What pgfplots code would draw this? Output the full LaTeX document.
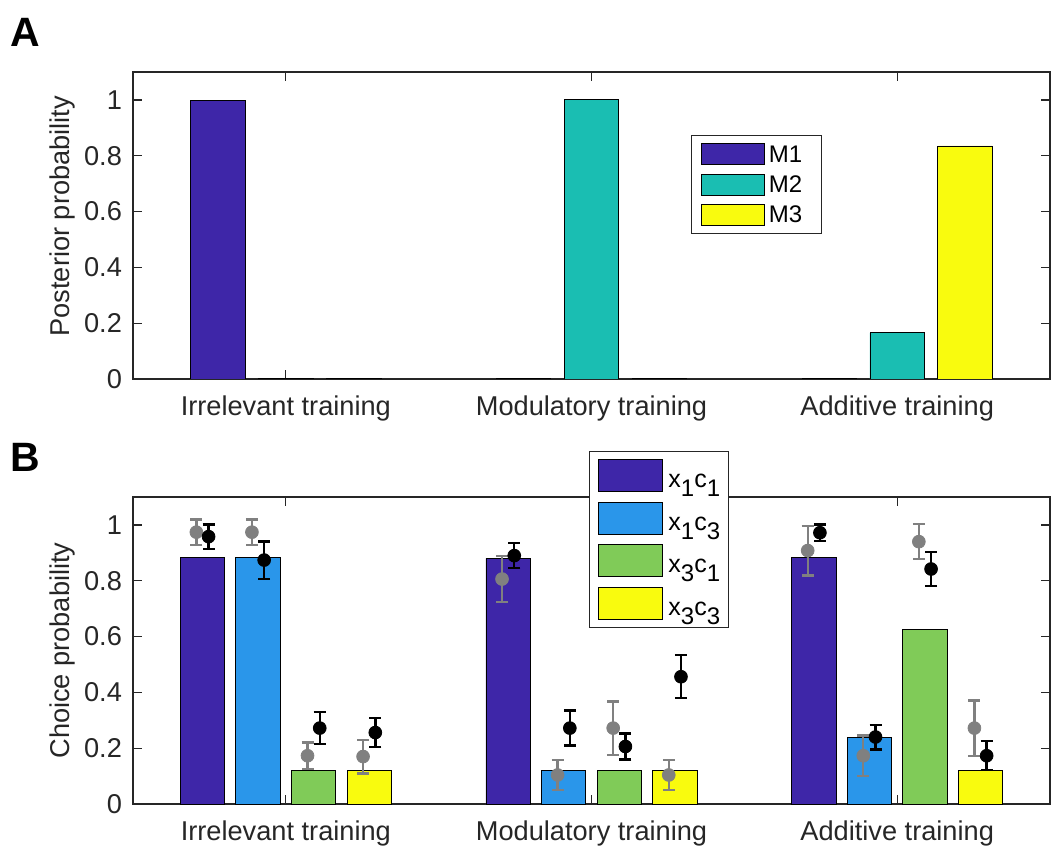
\documentclass[border=0pt]{standalone}
\usepackage{pgfplots}
\pgfplotsset{compat=1.18}
\usepackage{pgfplotstable}
\usepackage{fontspec}
\setmainfont{Liberation Sans}
\definecolor{axc}{RGB}{38,38,38}
\definecolor{cA}{RGB}{62,38,168}
\definecolor{cB}{RGB}{42,150,234}
\definecolor{cC}{RGB}{128,203,88}
\definecolor{cD}{RGB}{249,251,14}
\definecolor{cT}{RGB}{26,190,178}
\definecolor{ptg}{RGB}{128,128,128}
\newcommand{\sub}[1]{\raisebox{-4.5pt}{\fontsize{12}{12}\selectfont #1}}

\pgfplotstableread{
x y e
0.7073 0.974 0.045
0.8891 0.974 0.045
1.0709 0.173 0.047
1.2527 0.170 0.060
1.7073 0.806 0.083
1.8891 0.104 0.054
2.0709 0.272 0.096
2.2527 0.104 0.054
2.7073 0.908 0.089
2.8891 0.173 0.072
3.0709 0.940 0.063
3.2527 0.272 0.099
}\grayB

\pgfplotstableread{
x y e
0.7473 0.958 0.044
0.9291 0.874 0.067
1.1109 0.272 0.057
1.2927 0.256 0.052
1.7473 0.890 0.045
1.9291 0.272 0.063
2.1109 0.206 0.046
2.2927 0.456 0.077
2.7473 0.972 0.030
2.9291 0.240 0.044
3.1109 0.842 0.061
3.2927 0.173 0.052
}\blackB

\pgfplotsset{
  panel/.style={
    width=458.5pt, height=153.5pt, scale only axis,
    xmin=0.5, xmax=3.5, ymin=0, ymax=1.1,
    xtick={1,2,3},
    xticklabels={Irrelevant training, Modulatory training, Additive training},
    ytick={0,0.2,0.4,0.6,0.8,1},
    tick align=inside, major tick length=4.5pt,
    axis line style={draw=axc, line width=0.6pt},
    every tick/.style={draw=axc, line width=0.6pt},
    tick label style={font=\fontsize{13.6}{16}\selectfont, text=axc},
    /pgf/number format/assume math mode=true,
    yticklabel style={xshift=-2pt},
    xticklabel style={yshift=-5pt},
    label style={font=\fontsize{13.6}{16}\selectfont, text=axc},
  },
  barA/.style={ybar, bar width=0.178, bar shift=0pt, draw=black, line width=0.45pt,
    legend image code/.code={\draw[##1] (0pt,-4.75pt) rectangle (31.5pt,5.75pt);}},
  barB/.style={ybar, bar width=0.145, bar shift=0pt, draw=black, line width=0.45pt,
    legend image code/.code={\draw[##1] (0pt,-4.6pt) rectangle (32pt,11.4pt);}},
  errpts/.style={only marks, mark=*, mark size=3.2pt, color=#1,
    mark options={draw=#1, fill=#1}, forget plot,
    error bars/.cd, y dir=both, y explicit,
    error bar style={line width=1.2pt, color=#1},
    error mark options={rotate=90, mark size=3pt, line width=1.2pt, color=#1}},
}

\begin{document}
\begin{tikzpicture}
\useasboundingbox (0pt,0pt) rectangle (526pt,423pt);

\begin{axis}[panel, at={(66.5pt,233.5pt)}, anchor=south west,
  ylabel={Posterior probability},
  ylabel style={at={(axis description cs:-0.0774,0.53)}, anchor=center},
  legend style={at={(0.609,0.795)}, anchor=north west, draw=axc, fill=white,
    line width=0.5pt, font=\fontsize{12}{12}\selectfont, inner xsep=4.5pt, inner ysep=4pt,
    row sep=4.2pt, nodes={inner sep=0pt, text=black},
    /tikz/every odd column/.style={column sep=2pt}},
  legend cell align=left]
\addplot[barA, fill=cA] coordinates {(0.7778,0.998) (1.7778,0.002) (2.7778,0.002)};
\addplot[barA, fill=cT] coordinates {(1,0.002) (2,1.0) (3,0.165)};
\addplot[barA, fill=cD] coordinates {(1.2222,0.002) (2.2222,0.002) (3.2222,0.835)};
\legend{M1\hspace*{5pt},M2\hspace*{5pt},M3\hspace*{5pt}}
\end{axis}

\begin{axis}[panel, at={(66.5pt,21pt)}, anchor=south west,
  ylabel={Choice probability},
  ylabel style={at={(axis description cs:-0.0774,0.5)}, anchor=center},
  legend style={at={(0.4973,1.150)}, anchor=north west, draw=axc, fill=white,
    line width=0.5pt, font=\fontsize{12.5}{13}\selectfont, inner xsep=4pt, inner ysep=4pt,
    row sep=4.8pt, nodes={inner sep=0pt, text=black},
    /tikz/every odd column/.style={column sep=3pt}},
  legend cell align=left]
\addplot[barB, fill=cA] coordinates {(0.7273,0.884) (1.7273,0.880) (2.7273,0.884)};
\addplot[barB, fill=cB] coordinates {(0.9091,0.884) (1.9091,0.120) (2.9091,0.240)};
\addplot[barB, fill=cC] coordinates {(1.0909,0.120) (2.0909,0.120) (3.0909,0.626)};
\addplot[barB, fill=cD] coordinates {(1.2727,0.120) (2.2727,0.120) (3.2727,0.120)};
\addplot[errpts=ptg] table[x=x, y=y, y error=e] {\grayB};
\addplot[errpts=black] table[x=x, y=y, y error=e] {\blackB};
\legend{x\sub{1}c\sub{1}, x\sub{1}c\sub{3}, x\sub{3}c\sub{1}, x\sub{3}c\sub{3}}
\end{axis}

\node[anchor=base west, inner sep=0pt, font=\fontsize{20.5}{21}\bfseries\selectfont] at (5pt,399.5pt) {A};
\node[anchor=base west, inner sep=0pt, font=\fontsize{20.5}{21}\bfseries\selectfont] at (5pt,187pt) {B};
\end{tikzpicture}
\end{document}
